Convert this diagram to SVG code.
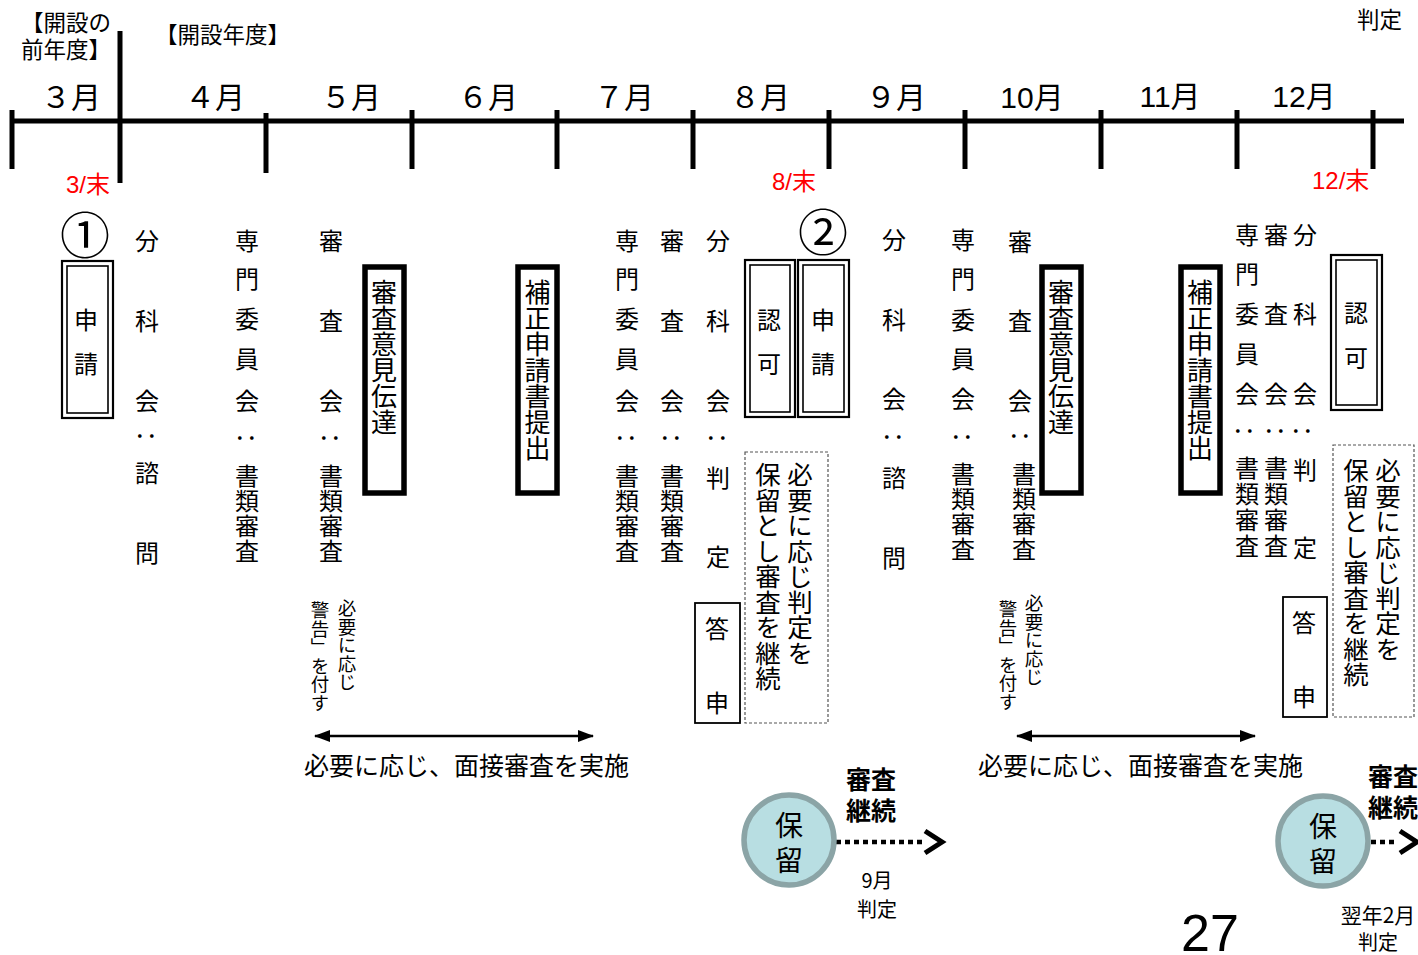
<svg xmlns="http://www.w3.org/2000/svg" width="1418" height="955" viewBox="0 0 1418 955">
<style>
text{font-family:"Noto Sans CJK JP","Noto Sans CJK SC",sans-serif;fill:#000}
.lat{font-family:"Liberation Sans","Noto Sans CJK JP",sans-serif}
.mon{font-size:30px;text-anchor:middle}
.hdr{font-size:22.5px}
.red{font-size:24px;fill:#ff0000}
.c{font-size:24px;text-anchor:middle;dominant-baseline:central}
.cv{writing-mode:vertical-rl;font-size:24px;letter-spacing:1px}
.cv2{writing-mode:vertical-rl;font-size:24px;letter-spacing:2px}
.vt{writing-mode:vertical-rl;font-size:26px}
.vs{writing-mode:vertical-rl;font-size:18.5px}
.note{font-size:25px}
.bold{font-size:25px;font-weight:bold}
.sm{font-size:20px;text-anchor:middle}
.tl{stroke:#000;stroke-width:5;fill:none}
.dbo{fill:#fff;stroke:#000;stroke-width:2.2}
.dbi{fill:none;stroke:#000;stroke-width:1.6}
.thick{fill:#fff;stroke:#000;stroke-width:5.5}
.dot{fill:none;stroke:#555;stroke-width:1.2;stroke-dasharray:3 2}
.ans{fill:#fff;stroke:#000;stroke-width:1.8}
.hold{fill:#b8dee2;stroke:#8ba4a6;stroke-width:5.5}
.arr{stroke:#000;stroke-width:2.5;fill:none}
.dash{stroke:#000;stroke-width:4.5;stroke-dasharray:5 4;fill:none}
.chev{stroke:#000;stroke-width:5;fill:none;stroke-linejoin:miter}
</style>
<defs>
<marker id="ah" viewBox="0 0 16 12" refX="15" refY="6" markerWidth="16" markerHeight="12" markerUnits="userSpaceOnUse" orient="auto-start-reverse">
<path d="M0,0 L16,6 L0,12 Z" fill="#000"/>
</marker>
</defs>

<g id="timeline">
<line class="tl" x1="10" y1="121" x2="1404" y2="121"/>
<line class="tl" x1="12" y1="110" x2="12" y2="169"/>
<line class="tl" x1="120" y1="31" x2="120" y2="183"/>
<line class="tl" x1="266" y1="113" x2="266" y2="173"/>
<line class="tl" x1="412" y1="110" x2="412" y2="169"/>
<line class="tl" x1="557" y1="110" x2="557" y2="169"/>
<line class="tl" x1="693" y1="110" x2="693" y2="169"/>
<line class="tl" x1="829" y1="110" x2="829" y2="169"/>
<line class="tl" x1="965" y1="110" x2="965" y2="169"/>
<line class="tl" x1="1101" y1="110" x2="1101" y2="169"/>
<line class="tl" x1="1237" y1="110" x2="1237" y2="169"/>
<line class="tl" x1="1373" y1="110" x2="1373" y2="169"/>
<text class="mon" x="71" y="108">３月</text>
<text class="mon" x="215" y="108">４月</text>
<text class="mon" x="351" y="108">５月</text>
<text class="mon" x="488" y="108">６月</text>
<text class="mon" x="624" y="108">７月</text>
<text class="mon" x="760" y="108">８月</text>
<text class="mon" x="896" y="108">９月</text>
<text class="mon lat" x="1032" y="108">10月</text>
<text class="mon lat" x="1170" y="107">11月</text>
<text class="mon lat" x="1304" y="107">12月</text>
<text class="hdr"><tspan x="21" y="31">【開設の</tspan><tspan x="21" y="58">前年度】</tspan></text>
<text class="hdr" x="155" y="43">【開設年度】</text>
<text class="hdr" x="1357" y="28">判定</text>
<text class="red lat" x="66" y="193">3/末</text>
<text class="red lat" x="772" y="190">8/末</text>
<text class="red lat" x="1312" y="189">12/末</text>
</g>

<g id="connectors">
<line class="arr" x1="315" y1="736" x2="593" y2="736" marker-start="url(#ah)" marker-end="url(#ah)"/>
<line class="arr" x1="1017" y1="736" x2="1255" y2="736" marker-start="url(#ah)" marker-end="url(#ah)"/>
<line class="dash" x1="836" y1="842" x2="922" y2="842"/>
<polyline class="chev" points="925,831 942,842 925,853"/>
<line class="dash" x1="1371" y1="842" x2="1398" y2="842"/>
<polyline class="chev" points="1400,831 1417,842 1400,853"/>
</g>

<g id="apply1">
<text class="c" x="85" y="232" style="font-size:50px">①</text>
<rect class="dbo" x="62" y="261" width="51" height="157"/>
<rect class="dbi" x="67" y="266" width="41" height="147"/>
<text class="c" x="86" y="318">申</text>
<text class="c" x="86" y="362">請</text>
</g>

<g id="bunkakai-shimon1">
<text class="c" x="147" y="239">分</text><text class="c" x="147" y="319">科</text><text class="c" x="147" y="399">会</text>
<text class="c" x="147" y="436" transform="rotate(90 147 436)">：</text>
<text class="c" x="147" y="471">諮</text><text class="c" x="147" y="551">問</text>
</g>

<g id="senmon1">
<text class="c" x="247" y="239">専</text><text class="c" x="247" y="277">門</text><text class="c" x="247" y="317">委</text><text class="c" x="247" y="357">員</text><text class="c" x="247" y="399">会</text>
<text class="c" x="247" y="438" transform="rotate(90 247 438)">：</text>
<text class="cv" x="247" y="464">書類審査</text>
</g>

<g id="shinsakai1">
<text class="c" x="331" y="239">審</text><text class="c" x="331" y="319">査</text><text class="c" x="331" y="399">会</text>
<text class="c" x="331" y="438" transform="rotate(90 331 438)">：</text>
<text class="cv" x="331" y="464">書類審査</text>
</g>

<g id="iken1">
<rect class="thick" x="365" y="267" width="39" height="226"/>
<text class="vt" x="384" y="279">審査意見伝達</text>
</g>

<g id="warning1">
<text class="vs" x="347" y="599">必要に応じ</text>
<text class="vs" x="320" y="601">警告」を付す</text>
</g>

<g id="mensetsu1">
<text class="note" x="304" y="775">必要に応じ、面接審査を実施</text>
</g>

<g id="hosei1">
<rect class="thick" x="518" y="267" width="39" height="226"/>
<text class="vt" x="537.5" y="279">補正申請書提出</text>
</g>

<g id="senmon2">
<text class="c" x="627" y="239">専</text><text class="c" x="627" y="277">門</text><text class="c" x="627" y="317">委</text><text class="c" x="627" y="357">員</text><text class="c" x="627" y="399">会</text>
<text class="c" x="627" y="438" transform="rotate(90 627 438)">：</text>
<text class="cv" x="627" y="464">書類審査</text>
</g>

<g id="shinsakai2">
<text class="c" x="672" y="239">審</text><text class="c" x="672" y="319">査</text><text class="c" x="672" y="399">会</text>
<text class="c" x="672" y="438" transform="rotate(90 672 438)">：</text>
<text class="cv" x="672" y="464">書類審査</text>
</g>

<g id="bunkakai-hantei1">
<text class="c" x="718" y="239">分</text><text class="c" x="718" y="319">科</text><text class="c" x="718" y="399">会</text>
<text class="c" x="718" y="438" transform="rotate(90 718 438)">：</text>
<text class="c" x="718" y="476">判</text><text class="c" x="718" y="555">定</text>
</g>

<g id="toshin1">
<rect class="ans" x="695" y="603" width="45" height="120"/>
<text class="c" x="717" y="627">答</text>
<text class="c" x="717" y="701">申</text>
</g>

<g id="ninka1">
<rect class="dbo" x="745" y="260" width="50" height="157"/>
<rect class="dbi" x="750" y="265" width="40" height="147"/>
<text class="c" x="769" y="318">認</text>
<text class="c" x="769" y="362">可</text>
</g>

<g id="apply2">
<text class="c" x="823" y="229" style="font-size:50px">②</text>
<rect class="dbo" x="798" y="260" width="51" height="157"/>
<rect class="dbi" x="803" y="265" width="41" height="147"/>
<text class="c" x="823" y="318">申</text>
<text class="c" x="823" y="362">請</text>
</g>

<g id="hold-note1">
<rect class="dot" x="745" y="452" width="83" height="271"/>
<text class="vt" x="800" y="462" style="font-size:25.5px">必要に応じ判定を</text>
<text class="vt" x="768" y="462" style="font-size:25.5px">保留とし審査を継続</text>
</g>

<g id="hold1">
<circle class="hold" cx="789" cy="840" r="45"/>
<text class="c" x="789" y="824" style="font-size:28px">保</text>
<text class="c" x="789" y="859" style="font-size:28px">留</text>
<text class="bold"><tspan x="846" y="789">審査</tspan><tspan x="846" y="820">継続</tspan></text>
<text class="sm"><tspan x="877" y="888">9月</tspan><tspan x="877" y="917">判定</tspan></text>
</g>

<g id="bunkakai-shimon2">
<text class="c" x="894" y="238">分</text><text class="c" x="894" y="318">科</text><text class="c" x="894" y="397">会</text>
<text class="c" x="894" y="437" transform="rotate(90 894 437)">：</text>
<text class="c" x="894" y="476">諮</text><text class="c" x="894" y="556">問</text>
</g>

<g id="senmon3">
<text class="c" x="963" y="238">専</text><text class="c" x="963" y="277">門</text><text class="c" x="963" y="318">委</text><text class="c" x="963" y="357">員</text><text class="c" x="963" y="397">会</text>
<text class="c" x="963" y="437" transform="rotate(90 963 437)">：</text>
<text class="cv" x="963" y="462">書類審査</text>
</g>

<g id="shinsakai3">
<text class="c" x="1020" y="240">審</text><text class="c" x="1020" y="319">査</text><text class="c" x="1020" y="399">会</text>
<text class="c" x="1021" y="436" transform="rotate(90 1021 436)">：</text>
<text class="cv" x="1024" y="462">書類審査</text>
</g>

<g id="iken2">
<rect class="thick" x="1042" y="267" width="39" height="226"/>
<text class="vt" x="1061" y="279">審査意見伝達</text>
</g>

<g id="warning2">
<text class="vs" x="1034" y="594">必要に応じ</text>
<text class="vs" x="1008" y="600">警告」を付す</text>
</g>

<g id="mensetsu2">
<text class="note" x="978" y="775">必要に応じ、面接審査を実施</text>
</g>

<g id="hosei2">
<rect class="thick" x="1181" y="267" width="39" height="226"/>
<text class="vt" x="1200" y="279">補正申請書提出</text>
</g>

<g id="senmon4">
<text class="c" x="1247" y="233">専</text><text class="c" x="1247" y="272">門</text><text class="c" x="1247" y="312">委</text><text class="c" x="1247" y="352">員</text><text class="c" x="1247" y="392">会</text>
<text class="c" x="1245" y="431" transform="rotate(90 1245 431)">：</text>
<text class="cv2" x="1247" y="456">書類審査</text>
</g>

<g id="shinsakai4">
<text class="c" x="1276" y="233">審</text><text class="c" x="1276" y="312">査</text><text class="c" x="1276" y="392">会</text>
<text class="c" x="1276" y="431" transform="rotate(90 1276 431)">：</text>
<text class="cv2" x="1276" y="456">書類審査</text>
</g>

<g id="bunkakai-hantei2">
<text class="c" x="1305" y="233">分</text><text class="c" x="1305" y="312">科</text><text class="c" x="1305" y="392">会</text>
<text class="c" x="1303" y="431" transform="rotate(90 1303 431)">：</text>
<text class="c" x="1305" y="468">判</text><text class="c" x="1305" y="546">定</text>
</g>

<g id="ninka2">
<rect class="dbo" x="1331" y="255" width="51" height="155"/>
<rect class="dbi" x="1336" y="260" width="41" height="145"/>
<text class="c" x="1356" y="311">認</text>
<text class="c" x="1356" y="356">可</text>
</g>

<g id="hold-note2">
<rect class="dot" x="1333" y="445" width="81" height="272"/>
<text class="vt" x="1388" y="458" style="font-size:25.5px">必要に応じ判定を</text>
<text class="vt" x="1356" y="458" style="font-size:25.5px">保留とし審査を継続</text>
</g>

<g id="toshin2">
<rect class="ans" x="1283" y="597" width="44" height="120"/>
<text class="c" x="1304" y="621">答</text>
<text class="c" x="1304" y="695">申</text>
</g>

<g id="hold2">
<circle class="hold" cx="1323" cy="841" r="45"/>
<text class="c" x="1323" y="825" style="font-size:28px">保</text>
<text class="c" x="1323" y="860" style="font-size:28px">留</text>
<text class="bold"><tspan x="1368" y="786">審査</tspan><tspan x="1368" y="817">継続</tspan></text>
<text class="sm"><tspan x="1378" y="923" style="font-size:21px">翌年2月</tspan><tspan x="1378" y="950">判定</tspan></text>
</g>

<g id="page">
<text class="lat" x="1181" y="951" style="font-size:52px">27</text>
</g>
</svg>
